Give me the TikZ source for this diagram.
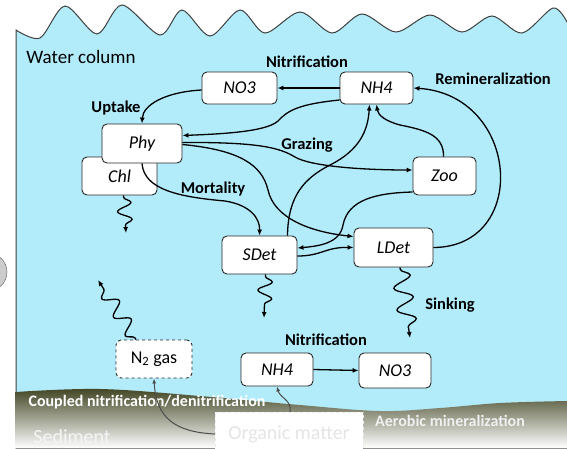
\documentclass[tikz,border=0pt]{standalone}
\usepackage{fontspec}
\setmainfont{Carlito}
\usetikzlibrary{arrows.meta,decorations.pathmorphing}
\definecolor{water}{RGB}{178,236,251}
\definecolor{mud}{RGB}{66,70,36}
\definecolor{boxline}{RGB}{40,40,40}

\begin{document}
\begin{tikzpicture}[x=1pt,y=-1pt,
    box/.style={draw=boxline,fill=white,rounded corners=5pt,line width=0.9pt,inner sep=0pt,
      font=\fontsize{18}{20}\selectfont\itshape},
    lbl/.style={font=\fontsize{16.5}{18}\selectfont\bfseries},
    flux/.style={line width=1.3pt,-{Latex[length=6pt,width=5pt]}},
    sink/.style={flux,decorate,decoration={snake,amplitude=7pt,segment length=17pt,pre length=2pt,post length=6pt}},
    soil/.style={line width=1pt,gray!60!black,-{Latex[length=5pt,width=4pt]}}]

  \useasboundingbox (0,0) rectangle (567,448);

  % water column with the wavy surface
  \filldraw[fill=water,draw=black!75,line width=1pt]
    plot[smooth,tension=.5] coordinates {(16,30) (40,38) (65,6) (97,34) (122,5) (160,35) (182,10)
      (210,36) (240,10) (265,33) (300,12) (332,33) (362,14) (396,32) (430,15) (462,32) (492,16)
      (522,33) (553,8) (567,22)}
    -- (572,22) -- (572,448) -- (16,448) -- cycle;

  % sediment
  \shade[top color=mud,bottom color=white]
    plot[smooth,tension=.6] coordinates {(15.5,392) (100,389) (200,396) (300,405) (380,411)
      (440,408) (500,403) (567,401)}
    -- (567,448) -- (15.5,448) -- cycle;

  \draw[gray!70!black,fill=gray!40] (-12,272) circle[radius=19];

  % labels
  \node[font=\fontsize{19}{22}\selectfont] (title) at (81,57) {Water column};
  \node[lbl] (nitrup) at (307,62) {Nitrification};
  \node[lbl] (remin) at (493,79) {Remineralization};
  \node[lbl] (uptake) at (116,108) {Uptake};
  \node[lbl] (grazing) at (307,145) {Grazing};
  \node[lbl] (mortality) at (213,189) {Mortality};
  \node[lbl] (sinking) at (450,305) {Sinking};
  \node[lbl] (nitrlow) at (326,340) {Nitrification};
  \node[lbl,white,font=\fontsize{16}{18}\selectfont\bfseries] (coupled) at (147,402)
    {Coupled nitrification/denitrification};
  \node[lbl,white!88!gray,font=\fontsize{16}{18}\selectfont\bfseries] (aerobic) at (450,421)
    {Aerobic mineralization};
  \node[white!92!gray,inner sep=0pt,font=\fontsize{20}{22}\selectfont] (sediment) at (72,437) {Sediment};

  % state variables
  \node[box,minimum width=75pt,minimum height=32pt] (no3) at (239.5,88) {NO3};
  \node[box,minimum width=73pt,minimum height=32pt] (nh4) at (376.5,88) {NH4};
  \node[box,minimum width=75pt,minimum height=38pt] (chl) at (119.5,176) {Chl};
  \node[box,minimum width=80pt,minimum height=39pt] (phy) at (142,143.5) {Phy};
  \node[box,minimum width=63pt,minimum height=38pt] (zoo) at (444.5,176) {Zoo};
  \node[box,minimum width=75pt,minimum height=38pt] (sdet) at (259.5,255) {SDet};
  \node[box,minimum width=79pt,minimum height=39pt] (ldet) at (393.5,247.5) {LDet};
  \node[box,dashed,font=\fontsize{18}{20}\selectfont,minimum width=76pt,minimum height=38pt]
    (n2) at (154,359) {N\textsubscript{2} gas};
  \node[box,minimum width=72pt,minimum height=33pt] (nh4b) at (277,369.5) {NH4};
  \node[box,minimum width=72pt,minimum height=35pt] (no3b) at (395,370.5) {NO3};
  \node[draw=white!85!gray,dashed,fill=white,inner sep=0pt,minimum width=148pt,minimum height=44pt,
    text=white!80!gray,font=\fontsize{20}{22}\selectfont] (om) at (289,434) {Organic matter};

  \coordinate (chlend) at (126,233);
  \coordinate (sdetend) at (264,318);
  \coordinate (ldetend) at (410,338);
  \coordinate (n2end) at (98,280);

  % fluxes
  \draw[flux] (nh4.west) -- (no3.east);
  \draw[flux] ([yshift=-2pt]no3.west) .. controls (165,92) and (143,105) .. (phy.north);
  \draw[flux] ([yshift=-12pt]nh4.west) .. controls (300,104) and (288,110) .. (278,121)
    .. controls (266,132) and (220,134) .. ([yshift=8pt]phy.east);
  \draw[flux] ([yshift=1pt]phy.east) .. controls (260,142) and (280,148) .. (295,157)
    .. controls (310,166) and (360,170) .. ([yshift=6pt]zoo.west);
  \draw[flux] ([yshift=-1pt]phy.east) .. controls (240,150) and (262,165) .. (268,190)
    .. controls (274,218) and (310,232) .. ([yshift=11pt]ldet.west);
  \draw[flux] (phy.south) .. controls (144,190) and (180,197) .. (225,201)
    .. controls (250,205) and (260,218) .. (sdet.north);
  \draw[flux] ([yshift=-16pt]zoo.west) .. controls (375,193) and (348,200) .. (343,225)
    .. controls (340,243) and (320,246) .. ([yshift=7pt]sdet.east);
  \draw[flux] ([yshift=-1pt]sdet.east) .. controls (322,256) and (325,247) .. (ldet.west);
  \draw[flux] ([xshift=28pt]sdet.north) .. controls (288,195) and (305,178) .. (330,165)
    .. controls (360,150) and (368,130) .. ([xshift=-7pt]nh4.south);
  \draw[flux] ([xshift=-1pt]zoo.north) .. controls (444,135) and (425,130) .. (400,125)
    .. controls (385,121) and (378,115) .. (nh4.south);
  \draw[flux] (ldet.east) .. controls (530,247) and (520,95) .. (nh4.east);
  \draw[flux] (nh4b.east) -- (no3b.west);

  % sinking and outgassing
  \draw[sink] ([xshift=4pt]chl.south) -- (chlend);
  \draw[sink] ([xshift=6pt]sdet.south) -- (sdetend);
  \draw[sink,decoration={segment length=22pt,amplitude=9pt}] ([xshift=6.5pt]ldet.south) -- (ldetend);
  \draw[sink,decoration={segment length=22pt,amplitude=7pt}] ([xshift=-18pt]n2.north) -- (n2end);

  % sediment fluxes
  \draw[soil] ([xshift=1pt]om.north) .. controls (292,400) and (280,398) .. (nh4b.south);
  \draw[soil] (om.west) .. controls (175,432) and (156,418) .. (n2.south);
\end{tikzpicture}
\end{document}
